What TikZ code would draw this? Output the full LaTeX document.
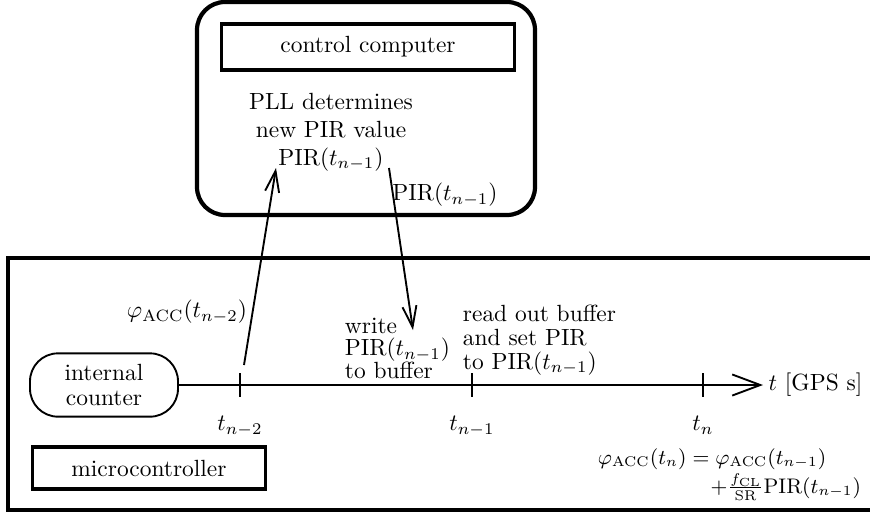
\documentclass[tikz,border=0pt]{standalone}
\usepackage{amsmath}
\usetikzlibrary{arrows.meta, positioning}

\begin{document}
\begin{tikzpicture}[x=0.015cm, y=-0.015cm, thick,
    box/.style={rectangle, draw, line width=1.4pt, minimum width=4.4cm, minimum height=0.69cm},
    counter/.style={rectangle, rounded corners=0.42cm, draw, thick, align=center, minimum width=2.22cm, minimum height=0.95cm, inner sep=2pt, font=\linespread{0.9}\selectfont},
    txt/.style={align=left, inner sep=0pt},
    msg/.style={-{Straight Barb[length=9pt, width=6pt]}, thick}]

    \useasboundingbox (0,0) rectangle (870,513);

    % the two devices
    \draw[line width=1.8pt, rounded corners=0.42cm] (197,2) rectangle (535,215);
    \draw[line width=1.8pt] (8,258) rectangle (900,510);

    \node[box] (cc) at (368,47) {control computer};
    \node[box, minimum width=3.5cm, minimum height=0.63cm] (mc) at (149,468) {microcontroller};
    \node[counter] (ic) at (104,385) {internal\\counter};

    \node[align=center, inner sep=0pt] (pll) at (331,132) {PLL determines\\new PIR value\\$\mathrm{PIR}(t_{n-1})$};

    % time axis
    \coordinate (tip) at (763,385);
    \coordinate (t2) at (240,385);
    \coordinate (t1) at (472,385);
    \coordinate (t0) at (703,385);
    \draw[-{Straight Barb[length=12pt, width=9pt]}] (ic) -- (tip);
    \node[anchor=west, inner sep=2pt] (gps) at (tip) {$t$ [GPS s]};
    \foreach \c/\l in {t2/{t_{n-2}}, t1/{t_{n-1}}, t0/{t_n}} {
        \draw (\c) ++(0,-12) -- ++(0,24);
        \node[below=13pt of \c, inner sep=0pt] (l\c) {$\l$};
    }

    % messages
    \coordinate (upfoot) at (244,365);
    \coordinate (uphead) at (276,168);
    \coordinate (dnfoot) at (389,168);
    \coordinate (dnhead) at (413,330);
    \draw[msg] (upfoot) -- (uphead);
    \draw[msg] (dnfoot) -- (dnhead);
    \node[inner sep=0pt] (phi) at (187,312) {$\varphi_{\mathrm{ACC}}(t_{n-2})$};
    \node[inner sep=0pt] (pir) at (445,195) {$\mathrm{PIR}(t_{n-1})$};

    \node[txt, anchor=west, font=\linespread{0.8}\selectfont] (wr) at (344,348) {write\\$\mathrm{PIR}(t_{n-1})$\\to buffer};
    \node[txt, anchor=west, font=\linespread{0.85}\selectfont] (rd) at (462,340) {read out buffer\\and set PIR\\to $\mathrm{PIR}(t_{n-1})$};

    \node[anchor=west, inner sep=0pt, font=\small] (eqa) at (597,459) {$\varphi_{\mathrm{ACC}}(t_n) = \varphi_{\mathrm{ACC}}(t_{n-1})$};
    \node[anchor=east, inner sep=0pt, font=\small] (eqb) at (862,487) {$+\frac{f_{\mathrm{CL}}}{\mathrm{SR}}\mathrm{PIR}(t_{n-1})$};

\end{tikzpicture}
\end{document}
